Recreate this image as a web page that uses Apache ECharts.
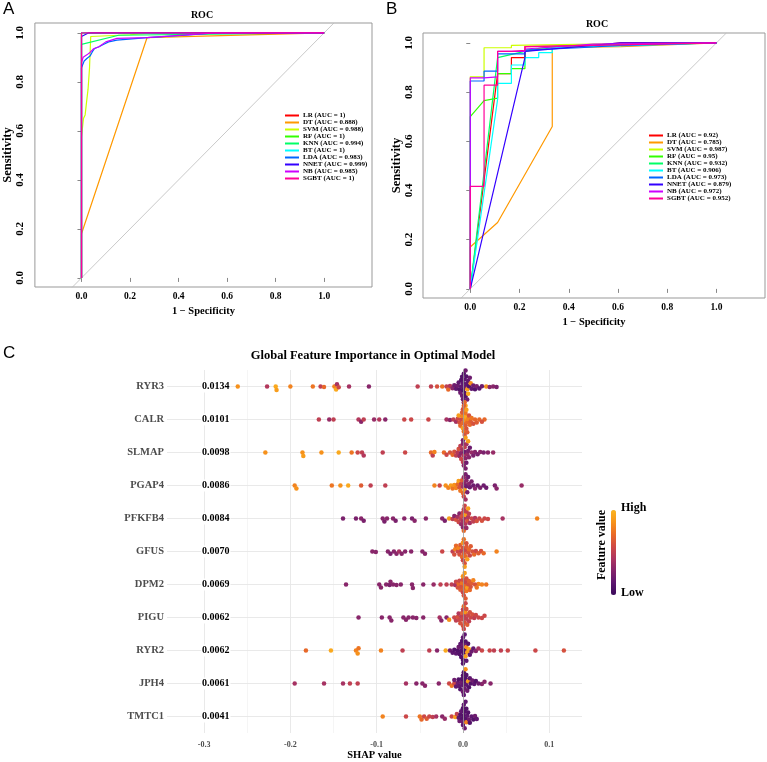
<!DOCTYPE html>
<html>
<head>
<meta charset="utf-8">
<script src="https://cdn.jsdelivr.net/npm/echarts@6/dist/echarts.min.js"></script>
<style>
  html, body { margin: 0; padding: 0; background: #fff; }
  #chart { width: 767px; height: 762px; }
</style>
</head>
<body>
<div id="chart"></div>
<script>
// ROC models
const models = ['LR', 'DT', 'SVM', 'RF', 'KNN', 'BT', 'LDA', 'NNET', 'NB', 'SGBT'];
const colors = ['#FF0000', '#FF9900', '#CCFF00', '#33FF00', '#00FF66', '#00FFFF', '#0066FF', '#3300FF', '#CC00FF', '#FF0099'];
const aucTrain = ['1', '0.888', '0.988', '1', '0.994', '1', '0.983', '0.999', '0.985', '1'];
const aucTest = ['0.92', '0.785', '0.987', '0.95', '0.932', '0.906', '0.973', '0.879', '0.972', '0.952'];
const rocTicks = [0, 0.2, 0.4, 0.6, 0.8, 1.0];
const diagonal = [[-0.04, -0.04], [1.04, 1.04]];

// panel A (training set) curves, [1 - specificity, sensitivity]
const rocTrain = [
    [[0, 0], [0, 1], [1, 1]],
    [[0, 0], [0, 0.18], [0.27, 0.98], [1, 1]],
    [[0, 0], [0, 0.575], [0.004, 0.575], [0.008, 0.65], [0.015, 0.665], [0.02, 0.71], [0.027, 0.77], [0.033, 0.855], [0.038, 0.985], [0.2, 0.992], [0.3, 1], [1, 1]],
    [[0, 0], [0, 1], [1, 1]],
    [[0, 0], [0, 0.953], [0.153, 0.99], [1, 1]],
    [[0, 0], [0, 1], [1, 1]],
    [[0, 0], [0, 0.857], [0.011, 0.885], [0.022, 0.895], [0.035, 0.905], [0.045, 0.923], [0.054, 0.936], [0.072, 0.943], [0.092, 0.953], [0.112, 0.963], [0.146, 0.97], [0.27, 0.98], [0.43, 0.99], [0.55, 1], [1, 1]],
    [[0, 0], [0, 0.985], [0.03, 1], [1, 1]],
    [[0, 0], [0, 0.88], [0.007, 0.9], [0.022, 0.91], [0.035, 0.92], [0.05, 0.935], [0.072, 0.943], [0.1, 0.963], [0.146, 0.977], [0.27, 0.98], [0.55, 1], [1, 1]],
    [[0, 0], [0, 1], [1, 1]]
];

// panel B (test set) curves
const rocTest = [
    [[0, 0], [0.111, 0.875], [0.167, 0.875], [0.167, 0.94], [0.222, 0.94], [0.222, 0.985], [0.5, 0.99], [0.611, 1], [1, 1]],
    [[0, 0], [0, 0.17], [0.111, 0.27], [0.333, 0.66], [0.333, 0.98], [0.611, 0.985], [1, 1]],
    [[0, 0], [0, 0.862], [0.056, 0.862], [0.056, 0.98], [0.167, 0.98], [0.167, 0.99], [0.5, 0.995], [1, 1]],
    [[0, 0], [0, 0.7], [0.056, 0.765], [0.111, 0.775], [0.111, 0.875], [0.167, 0.875], [0.167, 0.895], [0.222, 0.895], [0.222, 0.97], [0.333, 0.985], [1, 1]],
    [[0, 0], [0.111, 0.94], [0.222, 0.965], [0.333, 0.98], [0.5, 0.99], [1, 1]],
    [[0, 0], [0.111, 0.77], [0.111, 0.835], [0.167, 0.835], [0.167, 0.91], [0.222, 0.91], [0.222, 0.94], [0.278, 0.94], [0.278, 0.96], [0.333, 0.96], [0.333, 0.98], [0.667, 0.99], [1, 1]],
    [[0, 0], [0, 0.845], [0.056, 0.845], [0.056, 0.885], [0.111, 0.885], [0.111, 0.955], [0.222, 0.955], [0.222, 0.97], [0.444, 0.98], [0.611, 0.99], [1, 1]],
    [[0, 0], [0.222, 0.94], [0.222, 0.965], [0.5, 0.99], [0.611, 1], [1, 1]],
    [[0, 0], [0, 0.858], [0.056, 0.858], [0.056, 0.862], [0.111, 0.862], [0.111, 0.965], [0.222, 0.965], [0.222, 0.975], [0.5, 0.995], [1, 1]],
    [[0, 0], [0, 0.417], [0.056, 0.417], [0.056, 0.828], [0.111, 0.828], [0.111, 0.965], [0.167, 0.965], [0.167, 0.97], [0.222, 0.97], [0.222, 0.985], [0.5, 0.99], [1, 1]]
];

// panel C: SHAP beeswarm
const features = ['RYR3', 'CALR', 'SLMAP', 'PGAP4', 'PFKFB4', 'GFUS', 'DPM2', 'PIGU', 'RYR2', 'JPH4', 'TMTC1'];
const importance = ['0.0134', '0.0101', '0.0098', '0.0086', '0.0084', '0.0070', '0.0069', '0.0062', '0.0062', '0.0061', '0.0041'];
const shapTicks = [-0.3, -0.2, -0.1, 0, 0.1];

// [shap value, scaled feature value]
const ptsRYR3 = [[-0.261, .85], [-0.227, .45], [-0.217, .95], [-0.216, .9], [-0.2, .8], [-0.174, .75], [-0.165, .5], [-0.161, .7], [-0.149, .8], [-0.147, .95], [-0.146, .4], [-0.144, .55], [-0.132, .4], [-0.109, .3], [-0.0525, .5], [-0.037, .5], [-0.03, .6], [-0.024, .75], [-0.019, .5], [-0.017, .7], [-0.015, .45], [0.027, .85], [0.031, .3], [0.035, .3], [0.039, .25],
    [-0.012, .3], [-0.01, .2], [-0.008, .15], [-0.006, .2], [-0.005, .15], [-0.004, .1], [-0.003, .2], [-0.002, .15], [-0.002, .1], [-0.001, .2], [-0.001, .1], [0, .15], [0, .1], [0, .2], [0.001, .1], [0.001, .15], [0.002, .2], [0.002, .1], [0.002, .15], [0.003, .1], [0.003, .2], [0.003, .9], [0.004, .15], [0.004, .1], [0.005, .9], [0.005, .2], [0.006, .15], [0.006, .95], [0.007, .1], [0.008, .2], [0.009, .85], [0.01, .15], [0.012, .2], [0.014, .1], [0.016, .25], [0.019, .15], [0.022, .2]];
const ptsCALR = [[-0.167, .5], [-0.155, .35], [-0.15, .5], [-0.121, .45], [-0.118, .3], [-0.115, .5], [-0.103, .35], [-0.097, .45], [-0.09, .3], [-0.068, .55], [-0.06, .55], [-0.04, .55], [-0.019, .4], [-0.015, .3], [-0.011, .5], [0.025, .7],
    [-0.008, .4], [-0.006, .55], [-0.005, .9], [-0.004, .6], [-0.003, .7], [-0.002, .55], [-0.001, .8], [-0.001, .65], [0, .7], [0, .9], [0, .6], [0.001, .75], [0.001, .65], [0.002, .85], [0.002, .6], [0.002, .7], [0.003, .95], [0.003, .65], [0.003, .75], [0.004, .6], [0.004, .9], [0.005, .7], [0.005, .65], [0.006, .8], [0.007, .6], [0.008, .7], [0.009, .65], [0.01, .75], [0.012, .6], [0.014, .7], [0.016, .65], [0.019, .7], [0.022, .6]];
const ptsSLMAP = [[-0.229, .85], [-0.186, .85], [-0.185, .9], [-0.164, .85], [-0.144, .95], [-0.129, .75], [-0.122, .55], [-0.117, .5], [-0.115, .45], [-0.093, .5], [-0.067, .55], [-0.037, .7], [-0.035, .5], [-0.033, .8], [-0.022, .7], [-0.019, .55], [-0.015, .6], [0.029, .3], [0.035, .35],
    [-0.012, .7], [-0.01, .6], [-0.008, .5], [-0.006, .45], [-0.005, .6], [-0.004, .35], [-0.003, .5], [-0.002, .3], [-0.002, .55], [-0.001, .4], [0, .3], [0, .5], [0, .25], [0.001, .45], [0.001, .3], [0.002, .2], [0.002, .5], [0.003, .3], [0.003, .9], [0.003, .25], [0.004, .4], [0.004, .2], [0.005, .35], [0.006, .25], [0.006, .9], [0.007, .3], [0.008, .2], [0.01, .35], [0.012, .25], [0.014, .3], [0.017, .25], [0.02, .3], [0.024, .25]];
const ptsPGAP4 = [[-0.195, .8], [-0.193, .85], [-0.152, .75], [-0.142, .85], [-0.133, .95], [-0.118, .65], [-0.107, .5], [-0.09, .5], [-0.033, .8], [-0.027, .55], [0.037, .25], [0.039, .3], [0.068, .35],
    [-0.02, .85], [-0.017, .8], [-0.014, .9], [-0.012, .75], [-0.01, .85], [-0.008, .8], [-0.006, .7], [-0.005, .9], [-0.004, .6], [-0.003, .75], [-0.002, .5], [-0.001, .65], [0, .4], [0, .7], [0.001, .35], [0.001, .55], [0.002, .3], [0.002, .9], [0.003, .25], [0.003, .4], [0.004, .2], [0.004, .3], [0.005, .25], [0.006, .2], [0.007, .3], [0.008, .2], [0.01, .25], [0.012, .2], [0.014, .3], [0.017, .2], [0.02, .25], [0.024, .2], [0.027, .2]];
const ptsPFKFB4 = [[-0.139, .25], [-0.124, .25], [-0.118, .3], [-0.115, .25], [-0.093, .3], [-0.091, .25], [-0.088, .3], [-0.081, .3], [-0.078, .25], [-0.068, .3], [-0.059, .25], [-0.056, .3], [-0.043, .3], [-0.024, .3], [-0.021, .25], [-0.016, .9], [0.029, .55], [0.046, .4], [0.086, .8],
    [-0.012, .5], [-0.01, .3], [-0.008, .6], [-0.006, .4], [-0.005, .55], [-0.004, .3], [-0.003, .5], [-0.002, .35], [-0.001, .6], [0, .4], [0, .55], [0, .3], [0.001, .5], [0.001, .7], [0.002, .4], [0.002, .55], [0.003, .9], [0.003, .45], [0.004, .5], [0.004, .35], [0.005, .6], [0.006, .45], [0.006, .9], [0.007, .5], [0.008, .4], [0.01, .55], [0.012, .5], [0.014, .45], [0.016, .6], [0.019, .55], [0.022, .6], [0.025, .55]];
const ptsGFUS = [[-0.105, .3], [-0.101, .3], [-0.087, .3], [-0.084, .25], [-0.08, .3], [-0.077, .3], [-0.074, .4], [-0.071, .3], [-0.067, .3], [-0.06, .3], [-0.047, .3], [-0.044, .3], [-0.024, .55], [-0.012, .5], [-0.009, .8], [0.039, .8],
    [-0.01, .6], [-0.008, .7], [-0.006, .55], [-0.005, .8], [-0.004, .6], [-0.003, .65], [-0.002, .5], [-0.001, .7], [0, .6], [0, .85], [0, .55], [0.001, .65], [0.001, .75], [0.002, .6], [0.002, .9], [0.003, .55], [0.003, .7], [0.004, .65], [0.004, .6], [0.005, .9], [0.006, .6], [0.007, .7], [0.008, .55], [0.009, .65], [0.011, .6], [0.013, .7], [0.015, .55], [0.018, .65], [0.021, .6], [0.024, .7]];
const ptsDPM2 = [[-0.1355, .3], [-0.097, .3], [-0.095, .3], [-0.089, .3], [-0.085, .25], [-0.084, .3], [-0.081, .3], [-0.077, .3], [-0.072, .3], [-0.059, .3], [-0.058, .3], [-0.046, .3], [-0.034, .35], [-0.026, .5], [-0.019, .5], [-0.013, .5], [-0.009, .4], [0.018, .8], [0.022, .8], [0.027, .75],
    [-0.008, .55], [-0.006, .6], [-0.005, .7], [-0.004, .55], [-0.003, .65], [-0.002, .6], [-0.001, .75], [0, .6], [0, .55], [0, .85], [0.001, .65], [0.001, .6], [0.002, .7], [0.002, .9], [0.003, .55], [0.003, .65], [0.004, .6], [0.004, .75], [0.005, .9], [0.006, .6], [0.007, .65], [0.008, .7], [0.009, .6], [0.01, .65], [0.012, .8], [0.014, .6], [0.016, .75]];
const ptsPIGU = [[-0.121, .3], [-0.094, .3], [-0.085, .3], [-0.083, .3], [-0.069, .3], [-0.066, .3], [-0.063, .3], [-0.058, .3], [-0.054, .3], [-0.046, .3], [-0.027, .4], [-0.025, .3], [-0.019, .3], [-0.016, .85], [0.018, .55], [0.022, .55], [0.025, .55],
    [-0.01, .55], [-0.008, .5], [-0.006, .6], [-0.005, .45], [-0.004, .55], [-0.003, .6], [-0.002, .5], [-0.001, .65], [0, .55], [0, .5], [0, .6], [0.001, .7], [0.001, .55], [0.002, .5], [0.002, .6], [0.003, .85], [0.003, .55], [0.004, .5], [0.004, .6], [0.005, .65], [0.006, .55], [0.007, .5], [0.008, .6], [0.009, .55], [0.011, .6], [0.013, .5], [0.015, .55]];
const ptsRYR2 = [[-0.182, .7], [-0.153, .95], [-0.124, .8], [-0.122, .85], [-0.121, .75], [-0.095, .8], [-0.07, .5], [-0.039, .5], [-0.03, .3], [-0.02, .95], [0.022, .55], [0.031, .55], [0.036, .5], [0.044, .5], [0.052, .55], [0.084, .55], [0.117, .6],
    [-0.015, .2], [-0.012, .15], [-0.01, .1], [-0.008, .15], [-0.006, .1], [-0.005, .2], [-0.004, .1], [-0.003, .15], [-0.002, .1], [-0.002, .1], [-0.001, .15], [-0.001, .1], [0, .1], [0, .15], [0, .1], [0.001, .1], [0.001, .2], [0.002, .1], [0.002, .15], [0.003, .9], [0.003, .1], [0.004, .85], [0.004, .15], [0.005, .9], [0.006, .1], [0.007, .95], [0.008, .15], [0.01, .2], [0.012, .15], [0.015, .3], [0.018, .4]];
const ptsJPH4 = [[-0.195, .4], [-0.161, .4], [-0.139, .4], [-0.131, .5], [-0.122, .5], [-0.066, .4], [-0.054, .3], [-0.047, .3], [-0.044, .3], [-0.028, .3], [-0.016, .55], [-0.013, .75], [-0.01, .55], [0.022, .3], [0.025, .3], [0.032, .3],
    [-0.01, .2], [-0.008, .15], [-0.006, .2], [-0.005, .1], [-0.004, .15], [-0.003, .1], [-0.002, .2], [-0.001, .1], [0, .15], [0, .1], [0, .2], [0.001, .1], [0.001, .15], [0.002, .1], [0.002, .2], [0.003, .1], [0.003, .85], [0.004, .15], [0.004, .1], [0.005, .2], [0.006, .9], [0.007, .1], [0.008, .15], [0.009, .1], [0.011, .2], [0.013, .15], [0.015, .1], [0.018, .2]];
const ptsTMTC1 = [[-0.093, .8], [-0.066, .55], [-0.05, .75], [-0.048, .7], [-0.045, .55], [-0.042, .65], [-0.039, .55], [-0.035, .5], [-0.031, .4], [-0.024, .3], [-0.021, .35], [-0.013, .55], [-0.009, .9], [-0.007, .5],
    [-0.005, .15], [-0.004, .2], [-0.003, .1], [-0.002, .15], [-0.001, .1], [0, .2], [0, .1], [0, .15], [0.001, .1], [0.001, .15], [0.002, .1], [0.002, .2], [0.003, .1], [0.003, .15], [0.004, .8], [0.004, .1], [0.005, .15], [0.006, .1], [0.007, .2], [0.008, .1], [0.01, .15], [0.012, .1], [0.014, .2], [0.016, .15]];
const shapPoints = [ptsRYR3, ptsCALR, ptsSLMAP, ptsPGAP4, ptsPFKFB4, ptsGFUS, ptsDPM2, ptsPIGU, ptsRYR2, ptsJPH4, ptsTMTC1];

const serif = 'Liberation Serif';
const chart = echarts.init(document.getElementById('chart'));

// panel C geometry
const cGrid = { left: 167, top: 370, width: 415, height: 364 };
const shapMin = -0.343, shapMax = 0.138;
const pxPerShap = cGrid.width / (shapMax - shapMin);
const rowPx = cGrid.height / features.length;
const dotGap = 3.5;

// beeswarm: put each dot as close to the row line as it can go without hitting earlier dots
function swarmOffsets(pts) {
    const order = pts.map((p, i) => i).sort((a, b) => pts[a][0] - pts[b][0]);
    const placed = [];
    const off = new Array(pts.length);
    order.forEach(i => {
        const x = pts[i][0] * pxPerShap;
        const near = placed.filter(q => Math.abs(q.x - x) < dotGap);
        const cands = [0];
        near.forEach(q => {
            const h = Math.sqrt(dotGap * dotGap - (q.x - x) * (q.x - x));
            cands.push(q.y + h, q.y - h);
        });
        cands.sort((a, b) => Math.abs(a) - Math.abs(b));
        const y = cands.find(c => near.every(q => (q.x - x) * (q.x - x) + (q.y - c) * (q.y - c) >= dotGap * dotGap - 1e-6));
        placed.push({ x: x, y: y });
        off[i] = y;
    });
    return off;
}

function rocAxes(grid, labelMargin) {
    const x = {
        type: 'value', gridIndex: grid, min: -0.192, max: 1.197,
        name: '1 \u2212 Specificity', nameLocation: 'middle', nameGap: 19,
        nameTextStyle: { fontFamily: serif, fontWeight: 'bold', fontSize: 10.5, color: '#000' },
        axisLine: { show: false },
        axisTick: { show: true, length: 4, lineStyle: { color: '#888' }, customValues: rocTicks },
        axisLabel: { customValues: rocTicks, margin: 5, fontFamily: serif, fontWeight: 'bold', fontSize: 9.5, color: '#000', formatter: v => v.toFixed(1) },
        splitLine: { show: false }
    };
    const y = {
        type: 'value', gridIndex: grid, min: -0.037, max: 1.04,
        name: 'Sensitivity', nameLocation: 'middle', nameGap: 20,
        nameTextStyle: { fontFamily: serif, fontWeight: 'bold', fontSize: 12.5, color: '#000' },
        axisLine: { show: false },
        axisTick: { show: true, length: 4, lineStyle: { color: '#888' }, customValues: rocTicks },
        axisLabel: { customValues: rocTicks, margin: labelMargin, rotate: 90, fontFamily: serif, fontWeight: 'bold', fontSize: 11, color: '#000', formatter: v => v.toFixed(1) },
        splitLine: { show: false }
    };
    return [x, y];
}

function rocSeries(aucs, curves, idx) {
    const list = [{
        type: 'line', xAxisIndex: idx, yAxisIndex: idx, data: diagonal, symbol: 'none', silent: true,
        lineStyle: { color: '#bbbbbb', width: 0.8 }, z: 1
    }];
    models.forEach((m, i) => {
        list.push({
            name: m + ' (AUC = ' + aucs[i] + ')', type: 'line', xAxisIndex: idx, yAxisIndex: idx,
            data: curves[i], symbol: 'none', z: 2,
            lineStyle: { color: colors[i], width: 1.2 }, itemStyle: { color: colors[i] }
        });
    });
    return list;
}

function rocLegend(aucs, left, top) {
    return {
        orient: 'vertical', left: left, top: top, padding: 0, itemGap: 0,
        icon: 'rect', itemWidth: 14, itemHeight: 2,
        data: models.map((m, i) => m + ' (AUC = ' + aucs[i] + ')'),
        textStyle: { fontFamily: serif, fontWeight: 'bold', fontSize: 7, lineHeight: 7, color: '#000', padding: [0, 0, 0, -1] }
    };
}

const axA = rocAxes(0, 9);
const axB = rocAxes(1, 8);

const shapData = [];
shapPoints.forEach((pts, row) => {
    const off = swarmOffsets(pts);
    pts.forEach((p, k) => shapData.push([p[0], row + off[k] / rowPx, p[1]]));
});

const vMajor = [-0.3, -0.2, -0.1, 0.1];
const vMinor = [-0.25, -0.15, -0.05, 0.05];
const gridLines = []
    .concat(vMinor.map(v => ({ xAxis: v, lineStyle: { color: '#f0f0f0', width: 0.7, type: 'solid' } })))
    .concat(vMajor.map(v => ({ xAxis: v, lineStyle: { color: '#e6e6e6', width: 0.9, type: 'solid' } })))
    .concat(features.map((f, i) => ({ yAxis: i, lineStyle: { color: '#e6e6e6', width: 0.9, type: 'solid' } })));

const series = []
    .concat(rocSeries(aucTrain, rocTrain, 0))
    .concat(rocSeries(aucTest, rocTest, 1));

series.push({
    type: 'line', xAxisIndex: 2, yAxisIndex: 4, data: [], z: 1, silent: true,
    markLine: { z: 1, silent: true, symbol: ['none', 'none'], label: { show: false }, animation: false, data: gridLines }
});
const scatterIndex = series.length;
series.push({
    type: 'scatter', xAxisIndex: 2, yAxisIndex: 4, data: shapData, symbolSize: 4.5, z: 3,
    itemStyle: { borderWidth: 0, opacity: 1 }
});
series.push({
    type: 'line', xAxisIndex: 2, yAxisIndex: 4, data: [], z: 4, silent: true,
    markLine: {
        z: 4, silent: true, symbol: ['none', 'none'], label: { show: false }, animation: false,
        data: [{ xAxis: 0, lineStyle: { color: '#9a9a9a', width: 0.8, type: 'solid' } }]
    }
});

const textStyleBold = size => 'bold ' + size + 'px "' + serif + '"';

const option = {
    animation: false,
    backgroundColor: '#fff',
    grid: [
        { left: 30, top: 23, width: 342, height: 264, show: true, borderColor: '#999', borderWidth: 1 },
        { left: 423, top: 33, width: 342, height: 265, show: true, borderColor: '#999', borderWidth: 1 },
        cGrid
    ],
    xAxis: [axA[0], axB[0], {
        type: 'value', gridIndex: 2, min: shapMin, max: shapMax,
        name: 'SHAP value', nameLocation: 'middle', nameGap: 17,
        nameTextStyle: { fontFamily: serif, fontWeight: 'bold', fontSize: 10.5, color: '#000' },
        axisLine: { show: false }, axisTick: { show: false }, splitLine: { show: false },
        axisLabel: { customValues: shapTicks, margin: 8, fontFamily: serif, fontWeight: 'bold', fontSize: 8, color: '#4d4d4d', formatter: v => v.toFixed(1) }
    }],
    yAxis: [axA[1], axB[1], {
        type: 'category', gridIndex: 2, data: features, inverse: true,
        axisLine: { show: false }, axisTick: { show: false }, splitLine: { show: false },
        axisLabel: { margin: 3, fontFamily: serif, fontWeight: 'bold', fontSize: 10.5, color: '#4d4d4d' }
    }, {
        type: 'category', gridIndex: 2, data: importance, inverse: true, position: 'left', z: 10,
        axisLine: { show: false }, axisTick: { show: false }, splitLine: { show: false },
        axisLabel: { inside: true, margin: 34, fontFamily: serif, fontWeight: 'bold', fontSize: 10, color: '#000', backgroundColor: '#fff', padding: [1, 1] }
    }, {
        type: 'value', gridIndex: 2, min: -0.5, max: features.length - 0.5, inverse: true, show: false
    }],
    legend: [rocLegend(aucTrain, 285, 112), rocLegend(aucTest, 649, 132)],
    visualMap: {
        type: 'continuous', seriesIndex: scatterIndex, dimension: 2, min: 0, max: 1,
        calculable: false, left: 611, top: 510, itemWidth: 5, itemHeight: 85, padding: 0,
        inRange: { color: ['#3b0a5a', '#5d1670', '#84246b', '#ae3560', '#d04a44', '#ea6b26', '#f7931a', '#fbb520'] }
    },
    graphic: [
        { type: 'text', x: 3, y: 1, style: { text: 'A', font: '17px "Liberation Sans"', fill: '#000' } },
        { type: 'text', x: 386, y: 1, style: { text: 'B', font: '17px "Liberation Sans"', fill: '#000' } },
        { type: 'text', x: 3, y: 345, style: { text: 'C', font: '17px "Liberation Sans"', fill: '#000' } },
        { type: 'text', x: 202, y: 15, style: { text: 'ROC', font: textStyleBold(10), fill: '#000', align: 'center', verticalAlign: 'middle' } },
        { type: 'text', x: 597, y: 24, style: { text: 'ROC', font: textStyleBold(10), fill: '#000', align: 'center', verticalAlign: 'middle' } },
        { type: 'text', x: 373, y: 356, style: { text: 'Global Feature Importance in Optimal Model', font: textStyleBold(12.5), fill: '#000', align: 'center', verticalAlign: 'middle' } },
        { type: 'text', x: 621, y: 508, style: { text: 'High', font: textStyleBold(12), fill: '#000', align: 'left', verticalAlign: 'middle' } },
        { type: 'text', x: 621, y: 593, style: { text: 'Low', font: textStyleBold(12), fill: '#000', align: 'left', verticalAlign: 'middle' } },
        { type: 'text', x: 602, y: 545, rotation: Math.PI / 2, style: { text: 'Feature value', font: textStyleBold(12), fill: '#000', align: 'center', verticalAlign: 'middle' } }
    ],
    series: series
};

chart.setOption(option);
</script>
</body>
</html>
